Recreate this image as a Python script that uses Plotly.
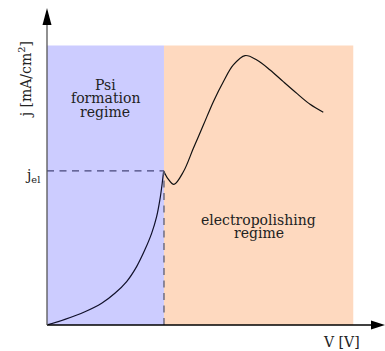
import plotly.graph_objects as go

# Data (V and j in arbitrary units)
v_psi = [0.0, 0.61, 1.29, 1.86, 2.31, 2.71, 3.05, 3.33, 3.56, 3.73, 3.84, 3.92, 3.97]
j_psi = [0.0, 0.19, 0.45, 0.74, 1.08, 1.48, 1.99, 2.56, 3.12, 3.69, 4.26, 4.83, 5.25]
v_ep = [3.97, 4.12, 4.32, 4.64, 4.98, 5.32, 5.66, 6.00, 6.34, 6.74, 7.14, 7.59, 8.04, 8.50, 8.95, 9.40]
j_ep = [5.25, 4.98, 4.79, 5.22, 6.02, 6.81, 7.61, 8.29, 8.86, 9.18, 9.03, 8.69, 8.29, 7.89, 7.52, 7.25]
v_el = 3.98
j_el = 5.25
region_top = 9.52
v_region_end = 10.42
x_max = 11.5
y_max = 10.8

psi_lines = ["Psi", "formation", "regime"]
psi_line_y = [8.19, 7.73, 7.26]
ep_lines = ["electropolishing", "regime"]
ep_line_y = [3.58, 3.13]

FONT = "DejaVu Serif"
TXT = "#222222"

fig = go.Figure()
fig.add_trace(go.Scatter(x=v_psi, y=j_psi, mode="lines",
                         line=dict(color="#10102a", width=1.2, shape="spline", smoothing=1.0),
                         hoverinfo="skip", showlegend=False))
fig.add_trace(go.Scatter(x=v_ep, y=j_ep, mode="lines",
                         line=dict(color="#111111", width=1.2, shape="spline", smoothing=1.0),
                         hoverinfo="skip", showlegend=False))
# dashed guides
fig.add_trace(go.Scatter(x=[0, v_el], y=[j_el, j_el], mode="lines",
                         line=dict(color="#45457a", width=1.4, dash="7px,5.5px"),
                         hoverinfo="skip", showlegend=False))
fig.add_trace(go.Scatter(x=[v_el, v_el], y=[0, j_el], mode="lines",
                         line=dict(color="#66667a", width=1.4, dash="7px,5.5px"),
                         hoverinfo="skip", showlegend=False))

shapes = [
    dict(type="rect", xref="x", yref="y", x0=0, x1=v_el, y0=0, y1=region_top,
         fillcolor="#ccccff", line=dict(width=0), layer="below"),
    dict(type="rect", xref="x", yref="y", x0=v_el, x1=v_region_end, y0=0, y1=region_top,
         fillcolor="#fed9bf", line=dict(width=0), layer="below"),
    # axis lines
    dict(type="line", xref="paper", yref="paper", x0=0, x1=0.97, y0=0, y1=0,
         line=dict(color="#000000", width=1.5)),
    dict(type="line", xref="paper", yref="paper", x0=0, x1=0, y0=0, y1=0.96,
         line=dict(color="#555555", width=1.3)),
    # arrow heads
    dict(type="path", xref="paper", yref="paper", xsizemode="pixel", ysizemode="pixel",
         xanchor=1, yanchor=0, path="M0,0 L-14,4.5 L-14,-4.5 Z",
         fillcolor="#000000", line=dict(width=0)),
    dict(type="path", xref="paper", yref="paper", xsizemode="pixel", ysizemode="pixel",
         xanchor=0, yanchor=1, path="M0,0 L-4.5,-17 L4.5,-17 Z",
         fillcolor="#000000", line=dict(width=0)),
]

annotations = []
for t, yy in zip(psi_lines, psi_line_y):
    annotations.append(dict(x=1.99, y=yy, xref="x", yref="y", text=t, showarrow=False,
                            xanchor="center", yanchor="middle",
                            font=dict(family=FONT, size=14, color=TXT)))
for t, yy in zip(ep_lines, ep_line_y):
    annotations.append(dict(x=7.2, y=yy, xref="x", yref="y", text=t, showarrow=False,
                            xanchor="center", yanchor="middle",
                            font=dict(family=FONT, size=14, color=TXT)))
annotations += [
    dict(x=-0.065, y=0.772, xref="paper", yref="paper", text="j [mA/cm<sup>2</sup>]",
         textangle=-90, showarrow=False, xanchor="center", yanchor="middle",
         font=dict(family=FONT, size=14, color=TXT)),
    dict(x=-0.044, y=0.470, xref="paper", yref="paper", text="j<sub>el</sub>",
         showarrow=False, xanchor="center", yanchor="middle",
         font=dict(family=FONT, size=14, color=TXT)),
    dict(x=0.872, y=-0.053, xref="paper", yref="paper", text="V [V]",
         showarrow=False, xanchor="center", yanchor="middle",
         font=dict(family=FONT, size=14, color=TXT)),
]

fig.update_layout(
    width=385, height=351,
    margin=dict(l=47, r=0, t=8, b=26, autoexpand=False),
    paper_bgcolor="white", plot_bgcolor="white",
    xaxis=dict(range=[0, x_max], visible=False, fixedrange=True),
    yaxis=dict(range=[0, y_max], visible=False, fixedrange=True),
    shapes=shapes, annotations=annotations,
)
fig.write_html("out.html", config={"displayModeBar": False})
